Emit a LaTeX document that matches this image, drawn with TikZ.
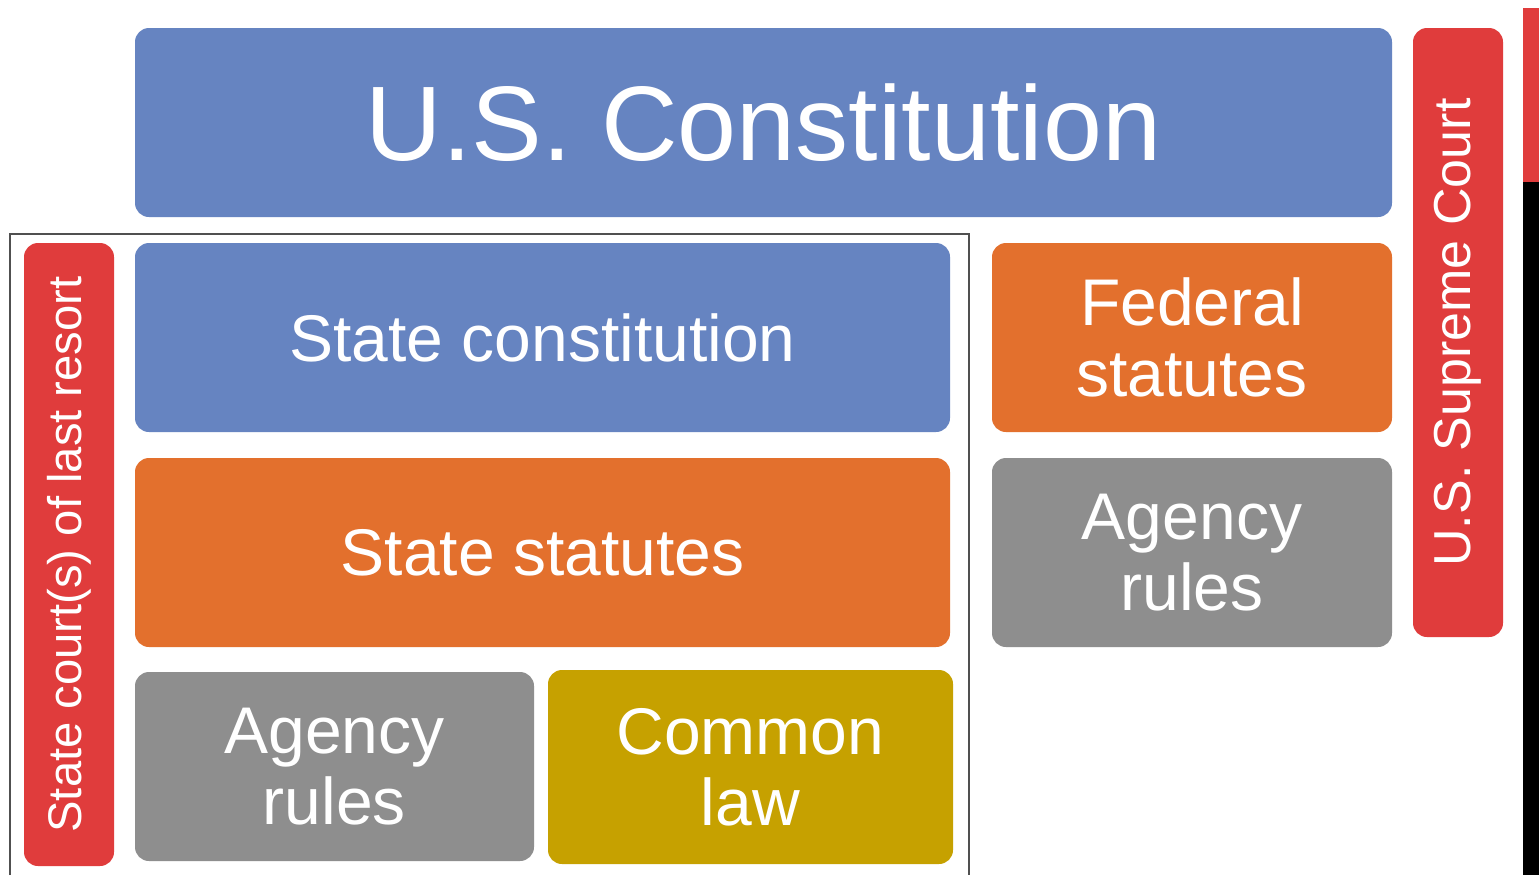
\documentclass[tikz,border=0pt]{standalone}
\usepackage{fontspec}
\setmainfont{Liberation Sans}
\definecolor{cblue}{HTML}{6684C1}
\definecolor{corange}{HTML}{E3702D}
\definecolor{cgray}{HTML}{8E8E8E}
\definecolor{cgold}{HTML}{C6A100}
\definecolor{cred}{HTML}{E03C3C}
\definecolor{cframe}{HTML}{505050}
\begin{document}
\begin{tikzpicture}[x=0.5pt,y=-0.5pt,
  box/.style={rounded corners=7pt, inner sep=0pt, text=white, align=center, draw=none},
  big/.style={font=\fontsize{53}{58}\selectfont},
  mid/.style={font=\fontsize{33}{35.5}\selectfont},
  vtext/.style={font=\fontsize{26}{30}\selectfont, rotate=90},
  vtexts/.style={font=\fontsize{23.6}{28}\selectfont, rotate=90}]
\useasboundingbox[fill=white] (0,0) rectangle (1539,875);
% right edge strip
\fill[cred] (1523,8) rectangle (1539,182);
\fill[black] (1523,182) rectangle (1539,875);
% state frame
\draw[cframe, line width=1pt] (10,875) -- (10,234) -- (969,234) -- (969,875);
% boxes
\node[box, big, fill=cblue, minimum width=628.5pt, minimum height=94.5pt] (uscon) at (763.5,122.5) {U.S. Constitution};
\node[box, vtext, fill=cred, minimum width=304.5pt, minimum height=45pt] (scotus) at (1458,332.5) {U.S. Supreme Court};
\node[box, vtexts, fill=cred, minimum width=311.5pt, minimum height=45pt] (stcourt) at (69,554.5) {State court(s) of last resort};
\node[box, mid, fill=cblue, minimum width=407.5pt, minimum height=94.5pt] (stcon) at (542.5,337.5) {State constitution};
\node[box, mid, fill=corange, minimum width=407.5pt, minimum height=94.5pt] (ststat) at (542.5,552.5) {State statutes};
\node[box, mid, fill=cgray, minimum width=199.5pt, minimum height=94.5pt] (agl) at (334.5,766.5) {Agency\\rules};
\node[box, mid, fill=cgold, minimum width=202.5pt, minimum height=97pt] (cl) at (750.5,767) {Common\\law};
\node[box, mid, fill=corange, minimum width=200pt, minimum height=94.5pt] (fed) at (1192,337.5) {Federal\\statutes};
\node[box, mid, fill=cgray, minimum width=200pt, minimum height=94.5pt] (agr) at (1192,552.5) {Agency\\rules};
\end{tikzpicture}
\end{document}
